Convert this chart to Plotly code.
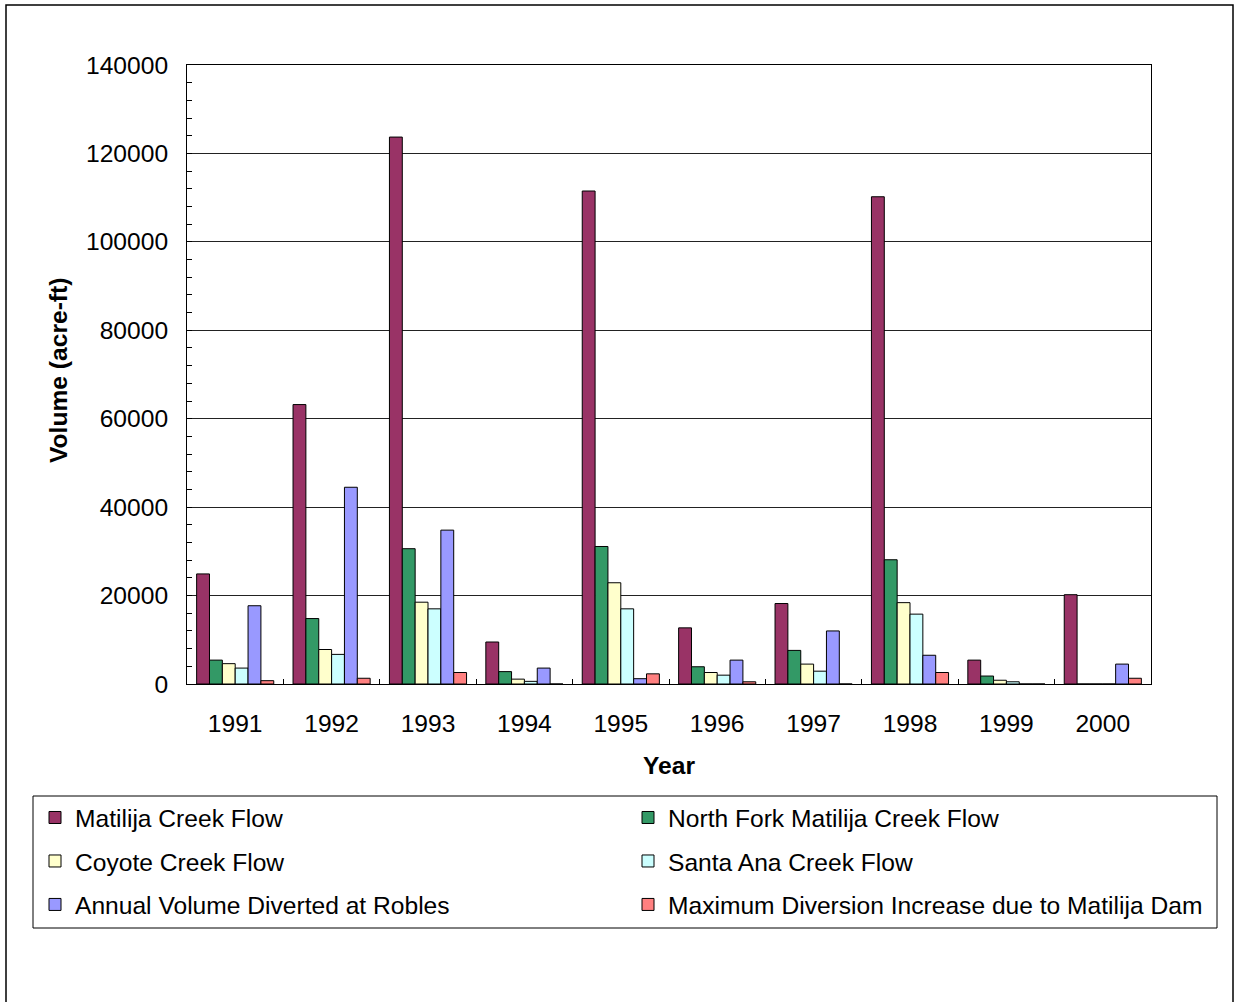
import plotly.graph_objects as go

# Annual flow volumes (acre-ft) by water year
years = ["1991", "1992", "1993", "1994", "1995", "1996", "1997", "1998", "1999", "2000"]

matilija = [24900, 63200, 123700, 9500, 111500, 12700, 18200, 110200, 5400, 20200]
north_fork = [5400, 14800, 30600, 2800, 31100, 3900, 7600, 28100, 1800, 0]
coyote = [4600, 7800, 18500, 1100, 22900, 2600, 4500, 18400, 850, 0]
santa_ana = [3600, 6700, 17000, 600, 17000, 2000, 2900, 15800, 500, 0]
robles = [17700, 44500, 34800, 3600, 1200, 5400, 12000, 6500, 0, 4500]
max_increase = [750, 1300, 2600, 0, 2300, 500, 0, 2600, 0, 1300]

series = [
    ("Matilija Creek Flow", matilija, "#993366", "legend"),
    ("North Fork Matilija Creek Flow", north_fork, "#339966", "legend2"),
    ("Coyote Creek Flow", coyote, "#FFFFCC", "legend"),
    ("Santa Ana Creek Flow", santa_ana, "#CCFFFF", "legend2"),
    ("Annual Volume Diverted at Robles", robles, "#9999FF", "legend"),
    ("Maximum Diversion Increase due to Matilija Dam", max_increase, "#FF8080", "legend2"),
]

W, H = 1238, 1002
L, R, T, B = 187, 87, 65, 318
PW, PH = W - L - R, H - T - B


def px_x(x):
    return (x - L) / PW


def px_y(y):
    return (H - B - y) / PH


FONT = "Liberation Sans, Arial, sans-serif"
FS = 24.6

fig = go.Figure()
for name, vals, color, leg in series:
    fig.add_trace(go.Bar(
        x=years, y=vals, name=name,
        marker=dict(color=color, line=dict(color="black", width=1)),
        legend=leg, legendgroup=name,
    ))

fig.update_layout(
    width=W, height=H,
    margin=dict(l=L, r=R, t=T, b=B, pad=0),
    paper_bgcolor="white", plot_bgcolor="white",
    barmode="group", bargap=0.2, bargroupgap=0,
    font=dict(family=FONT, size=FS, color="black"),
    showlegend=True,
    legend=dict(
        x=px_x(35), y=px_y(795), xanchor="left", yanchor="top",
        orientation="v", tracegroupgap=8.5,
        bgcolor="rgba(0,0,0,0)", borderwidth=0,
        font=dict(family=FONT, size=FS, color="black"),
    ),
    legend2=dict(
        x=px_x(628), y=px_y(795), xanchor="left", yanchor="top",
        orientation="v", tracegroupgap=8.5,
        bgcolor="rgba(0,0,0,0)", borderwidth=0,
        font=dict(family=FONT, size=FS, color="black"),
    ),
    xaxis=dict(
        type="category",
        showline=True, linecolor="black", linewidth=1, mirror=True,
        ticks="inside", tickson="boundaries", ticklen=5, tickcolor="black",
        ticklabelstandoff=17,
        showgrid=False, zeroline=False,
        tickfont=dict(family=FONT, size=FS, color="black"),
    ),
    yaxis=dict(
        range=[0, 140000], dtick=20000, tickformat="d",
        showline=True, linecolor="black", linewidth=1, mirror=True,
        ticks="inside", ticklen=5, tickcolor="black",
        ticklabelstandoff=13,
        minor=dict(dtick=4000, ticks="inside", ticklen=5, tickcolor="black", showgrid=False),
        showgrid=True, gridcolor="#222222", gridwidth=1,
        zeroline=False,
        tickfont=dict(family=FONT, size=FS, color="black"),
    ),
    annotations=[
        dict(text="<b>Year</b>", x=0.5, y=px_y(765), xref="paper", yref="paper",
             xanchor="center", yanchor="middle", showarrow=False,
             font=dict(family=FONT, size=FS, color="black")),
        dict(text="<b>Volume (acre-ft)</b>", x=px_x(58), y=px_y(371),
             xref="paper", yref="paper", textangle=-90,
             xanchor="center", yanchor="middle", showarrow=False,
             font=dict(family=FONT, size=FS, color="black")),
    ],
    shapes=[
        # legend frame
        dict(type="rect", xref="paper", yref="paper",
             x0=px_x(33), x1=px_x(1217), y0=px_y(928), y1=px_y(796),
             line=dict(color="black", width=1), fillcolor="rgba(0,0,0,0)", layer="below"),
        # chart frame
        dict(type="rect", xref="paper", yref="paper",
             x0=px_x(6), x1=px_x(1233), y0=px_y(1020), y1=px_y(5),
             line=dict(color="black", width=1.5), fillcolor="rgba(0,0,0,0)", layer="below"),
    ],
)

fig.write_html("out.html")
